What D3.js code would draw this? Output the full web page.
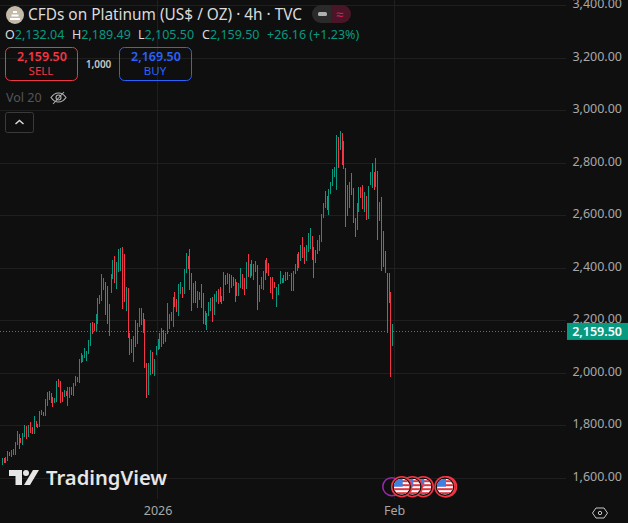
<!DOCTYPE html>
<html>
<head>
<meta charset="utf-8">
<script src="https://cdn.jsdelivr.net/npm/d3@7"></script>
<style>
  html, body { margin: 0; padding: 0; background: #0f0f0f; overflow: hidden; }
  svg { display: block; }
  text { font-family: "Noto Sans", sans-serif; }
</style>
</head>
<body>
<svg id="chart" width="628" height="523"></svg>
<script>
// --> candle data, oldest first <--
const highs = [
  1676,1679,1682,1704,1701,1708,1710,1740,1780,1769,1752,1771,1803,1799,1803,1816,1797,1837,1820,1807,
  1858,1860,1854,1902,1930,1933,1924,1911,1905,1972,1978,1971,1930,1936,1934,1947,1949,1949,1962,1990,
  1985,2053,2076,2070,2095,2086,2127,2193,2194,2193,2226,2286,2298,2378,2362,2349,2333,2264,2378,2432,
  2447,2425,2474,2477,2480,2455,2328,2324,2152,2131,2142,2203,2193,2248,2248,2228,2207,2038,2038,2089,
  2080,2054,2105,2131,2155,2171,2165,2155,2267,2226,2232,2289,2308,2283,2340,2347,2330,2397,2460,2447,
  2474,2381,2343,2352,2314,2308,2340,2306,2237,2231,2270,2285,2289,2304,2313,2320,2327,2296,2386,2374,
  2381,2378,2374,2365,2358,2348,2343,2400,2378,2363,2424,2454,2416,2431,2416,2428,2412,2336,2365,2390,
  2431,2439,2419,2365,2365,2346,2327,2340,2390,2362,2374,2386,2386,2374,2381,2390,2415,2454,2463,2489,
  2518,2480,2489,2536,2552,2523,2481,2470,2508,2527,2607,2647,2694,2675,2702,2729,2778,2785,2908,2899,
  2923,2914,2885,2781,2717,2729,2764,2705,2590,2647,2708,2708,2717,2689,2675,2714,2768,2800,2766,2819,
  2771,2651,2670,2542,2466,2384,2384,2309,2189
];
const lows = [
  1651,1657,1660,1667,1685,1680,1689,1689,1727,1712,1733,1727,1759,1748,1756,1771,1769,1769,1794,1790,
  1797,1841,1839,1837,1875,1898,1886,1873,1886,1889,1947,1886,1892,1911,1914,1875,1905,1917,1914,1952,
  1968,1964,2041,2044,2057,2048,2074,2104,2150,2161,2161,2188,2264,2276,2317,2222,2188,2142,2307,2358,
  2345,2321,2387,2391,2245,2273,2237,2136,2070,2079,2044,2099,2112,2175,2184,2155,2021,1907,1917,1994,
  1997,1991,2070,2089,2093,2101,2112,2121,2150,2169,2201,2178,2251,2234,2220,2302,2286,2302,2383,2397,
  2317,2237,2269,2269,2250,2279,2250,2188,2184,2165,2218,2237,2194,2222,2270,2264,2270,2264,2275,2336,
  2340,2307,2326,2332,2273,2294,2294,2324,2320,2298,2321,2365,2364,2371,2355,2387,2241,2273,2320,2317,
  2355,2383,2372,2307,2283,2326,2254,2298,2340,2345,2345,2353,2355,2370,2313,2313,2378,2391,2402,2428,
  2440,2416,2429,2463,2472,2432,2364,2421,2454,2467,2501,2593,2628,2622,2603,2683,2714,2749,2698,2783,
  2851,2794,2778,2559,2599,2631,2679,2574,2520,2546,2616,2669,2626,2616,2584,2588,2717,2705,2698,2708,
  2508,2581,2391,2404,2381,2155,2269,1987,2105
];
// 1 = up candle, 0 = down candle
const ups = [
  1,0,1,1,0,1,1,1,1,0,0,1,1,0,1,0,0,1,0,1,
  1,1,0,1,1,0,0,0,1,1,0,0,0,1,0,1,1,0,1,1,
  1,1,1,1,1,1,1,1,0,0,1,1,1,1,1,0,0,1,1,1,
  0,1,1,1,0,0,1,0,0,1,1,1,1,1,1,0,0,0,1,1,
  0,1,1,1,1,1,0,1,1,1,1,1,0,0,1,1,0,1,1,0,
  0,0,1,0,1,1,0,0,1,1,1,1,0,1,1,0,0,0,1,0,
  1,0,1,0,0,0,1,1,0,0,1,0,1,0,1,1,0,1,1,1,
  1,0,0,0,0,0,1,1,1,1,1,1,0,0,0,1,1,1,0,1,
  0,0,1,1,1,0,0,1,1,1,1,1,1,0,1,1,1,1,1,0,
  1,0,0,0,1,1,0,0,0,1,1,0,0,1,0,1,1,1,0,1,
  0,1,0,0,0,0,0,0,1
];

const priceTicks = [1600, 1800, 2000, 2200, 2400, 2600, 2800, 3000, 3200, 3400];
const timeTickIndex = [83, 209];
const timeTickLabels = ["2026", "Feb"];
const lastPrice = 2159.5;
const ohlcLabels = ["O", "H", "L", "C"];
const ohlcValues = ["2,132.04", "2,189.49", "2,105.50", "2,159.50"];

const colors = { bg: "#0f0f0f", grid: "#1f1f1f", up: "#089981", down: "#f23645", axis: "#a8a8a8", text: "#dbdbdb", blue: "#2962ff" };
const plotRight = 566;
const plotBottom = 499;

const svg = d3.select("#chart");
const fmt = d3.format(",.2f");

const x = d3.scaleLinear().domain([0, highs.length - 1]).range([1.7, 392.3]);
const y = d3.scaleLinear().domain([2000, 3000]).range([373.3, 110.8]);

svg.append("rect").attr("width", 628).attr("height", 523).attr("fill", colors.bg);

// =============================== //
// -->        Grid & Axes     <--  //
// =============================== //

const grid = svg.append("g").attr("stroke", colors.grid).attr("shape-rendering", "crispEdges");
grid.selectAll("line.h").data(priceTicks).join("line")
  .attr("class", "h")
  .attr("x1", 0).attr("x2", plotRight)
  .attr("y1", (d) => Math.floor(y(d)) + 0.5).attr("y2", (d) => Math.floor(y(d)) + 0.5);
grid.selectAll("line.v").data(timeTickIndex).join("line")
  .attr("class", "v")
  .attr("x1", (d) => Math.floor(x(d)) + 0.5).attr("x2", (d) => Math.floor(x(d)) + 0.5)
  .attr("y1", 0).attr("y2", plotBottom);

// price labels sit 2px above their grid line, as in the reference
svg.append("g")
  .attr("transform", `translate(${622 - 3},-2)`)
  .call(d3.axisLeft(y).tickValues(priceTicks).tickSize(0).tickPadding(-3).tickFormat(fmt))
  .call((g) => g.select(".domain").remove())
  .call((g) => g.selectAll("text").attr("fill", colors.axis).attr("font-size", 12.5));

svg.append("g")
  .attr("transform", `translate(0,${plotBottom})`)
  .call(d3.axisBottom(x).tickValues(timeTickIndex).tickSize(0).tickPadding(7).tickFormat((d, i) => timeTickLabels[i]))
  .call((g) => g.select(".domain").remove())
  .call((g) => g.selectAll("text").attr("fill", colors.axis).attr("font-size", 12.5));

// =============================== //
// -->         Candles        <--  //
// =============================== //

svg.append("g")
  .attr("shape-rendering", "crispEdges")
  .selectAll("rect")
  .data(highs.map((h, i) => ({ i, h, l: lows[i], up: ups[i] })))
  .join("rect")
  .attr("x", (d) => Math.round(x(d.i)))
  .attr("width", 1)
  .attr("y", (d) => y(d.h))
  .attr("height", (d) => y(d.l) - y(d.h))
  .attr("fill", (d) => (d.up ? colors.up : colors.down));

// last price line and tag
svg.append("line")
  .attr("x1", 0).attr("x2", plotRight)
  .attr("y1", Math.floor(y(lastPrice)) + 0.5).attr("y2", Math.floor(y(lastPrice)) + 0.5)
  .attr("stroke", colors.up).attr("stroke-dasharray", "1 2");
svg.append("rect")
  .attr("x", 567).attr("y", y(lastPrice) - 8.5).attr("width", 61).attr("height", 17)
  .attr("fill", colors.up);
svg.append("text")
  .attr("x", 622).attr("y", y(lastPrice) + 4.5)
  .attr("text-anchor", "end").attr("fill", "#fff").attr("font-size", 12.5).attr("font-weight", 600)
  .text(fmt(lastPrice));

// =============================== //
// -->         Legend         <--  //
// =============================== //

// symbol icon
svg.append("circle").attr("cx", 15).attr("cy", 15).attr("r", 9).attr("fill", "#c4baa9");
svg.append("path").attr("d", "M10 18h10v2h-10zM11.5 14.5h7v2h-7zM13 11h4v2h-4z").attr("fill", "#fff");

svg.append("text").attr("x", 28).attr("y", 20).attr("fill", colors.text).attr("font-size", 15.4)
  .text("CFDs on Platinum (US$ / OZ) · 4h · TVC");

// status pill
svg.append("path").attr("d", "M321 5h10v18h-10a9 9 0 0 1 0-18z").attr("fill", "#2a2a2a");
svg.append("path").attr("d", "M331 5h11a9 9 0 0 1 0 18h-11z").attr("fill", "#4a1527");
svg.append("rect").attr("x", 318).attr("y", 12).attr("width", 9).attr("height", 4).attr("rx", 1.5).attr("fill", "#b0b0b0");
svg.append("text").attr("x", 339.5).attr("y", 19).attr("text-anchor", "middle").attr("fill", "#e0245e").attr("font-size", 13).text("≈");

// OHLC row
const ohlcX = [5, 72, 138, 202];
ohlcLabels.forEach((lab, i) => {
  const t = svg.append("text").attr("x", ohlcX[i]).attr("y", 39).attr("font-size", 12.5);
  t.append("tspan").attr("fill", colors.text).text(lab);
  t.append("tspan").attr("fill", colors.up).text(ohlcValues[i]);
});
svg.append("text").attr("x", 267).attr("y", 39).attr("font-size", 12.5).attr("fill", colors.up).text("+26.16 (+1.23%)");

// sell / buy boxes
function tradeBox(left, color, price, label) {
  const g = svg.append("g").attr("text-anchor", "middle");
  g.append("rect").attr("x", left + 0.5).attr("y", 47.5).attr("width", 72).attr("height", 33).attr("rx", 5)
    .attr("fill", "none").attr("stroke", color);
  g.append("text").attr("x", left + 37).attr("y", 61).attr("fill", color).attr("font-size", 12.5).attr("font-weight", 600).text(price);
  g.append("text").attr("x", left + 36).attr("y", 75).attr("fill", color).attr("font-size", 11.5).text(label);
}
tradeBox(5, colors.down, "2,159.50", "SELL");
tradeBox(119, colors.blue, "2,169.50", "BUY");
svg.append("text").attr("x", 98.5).attr("y", 67.5).attr("text-anchor", "middle").attr("fill", "#c8c8c8")
  .attr("font-size", 10).attr("font-weight", 600).text("1,000");

// Vol row
svg.append("text").attr("x", 6).attr("y", 102).attr("fill", "#555").attr("font-size", 12.5).text("Vol 20");
const eye = svg.append("g").attr("fill", "none").attr("stroke", "#b4b4b4").attr("stroke-width", 1.1);
eye.append("path").attr("d", "M51 97.5c4-6 11-6 15 0c-4 6-11 6-15 0z");
eye.append("circle").attr("cx", 58.5).attr("cy", 97.5).attr("r", 2.5);
eye.append("path").attr("d", "M53 104l11-12");

// collapse button
svg.append("rect").attr("x", 5.5).attr("y", 112.5).attr("width", 28).attr("height", 20).attr("rx", 2)
  .attr("fill", "none").attr("stroke", "#3a3a3a");
svg.append("path").attr("d", "M15.5 124l4-3.5l4 3.5").attr("fill", "none").attr("stroke", "#d8d8d8").attr("stroke-width", 1.5);

// =============================== //
// -->    Watermark & Icons   <--  //
// =============================== //

svg.append("path").attr("fill", "#e6e6e6")
  .attr("d", "M9 470h13v15h-6.5v-9h-6.5zM33 470h6l-9 15h-6z");
svg.append("circle").attr("cx", 26).attr("cy", 473).attr("r", 3).attr("fill", "#e6e6e6");
svg.append("text").attr("x", 46).attr("y", 485).attr("fill", "#e6e6e6")
  .attr("font-family", "Inter, sans-serif").attr("font-size", 20.2).attr("font-weight", 600).text("TradingView");

// settings hexagon
svg.append("path").attr("d", "M596 508h8l3.5 5l-3.5 5h-8l-3.5-5z").attr("fill", "none").attr("stroke", "#c8c8c8");
svg.append("circle").attr("cx", 600).attr("cy", 513).attr("r", 1.7).attr("fill", "none").attr("stroke", "#c8c8c8");

// event markers
const eventY = 486.7;
svg.append("circle").attr("cx", x(208) - 0.5).attr("cy", eventY).attr("r", 9).attr("fill", colors.bg).attr("stroke", "#9c27b0").attr("stroke-width", 1.5);

const defs = svg.append("defs");
defs.append("clipPath").attr("id", "flagClip").append("circle").attr("r", 8);

function flag(cx, doubled) {
  const g = svg.append("g").attr("transform", `translate(${cx},${eventY})`);
  if (doubled) g.append("circle").attr("cx", 1.5).attr("r", 10).attr("fill", "none").attr("stroke", colors.down).attr("stroke-width", 1.5);
  g.append("circle").attr("r", 10).attr("fill", "#111").attr("stroke", colors.down).attr("stroke-width", 1.5);
  const c = g.append("g").attr("clip-path", "url(#flagClip)");
  c.append("rect").attr("x", -8).attr("y", -8).attr("width", 16).attr("height", 16).attr("fill", "#fff");
  [-6.5, -2.5, 1.5, 5.5].forEach((s) => c.append("rect").attr("x", -8).attr("y", s).attr("width", 16).attr("height", 2).attr("fill", "#e0353f"));
  c.append("rect").attr("x", -8).attr("y", -8).attr("width", 9).attr("height", 8).attr("fill", "#3f7fe0");
}
flag(423.3, false);
flag(412.3, false);
flag(401.7, false);
flag(445, true);
</script>
</body>
</html>
